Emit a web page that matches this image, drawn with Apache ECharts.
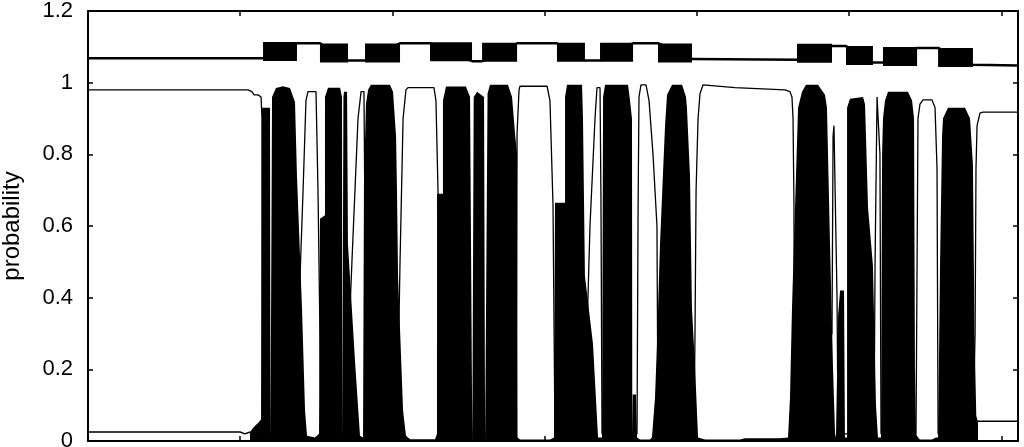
<!DOCTYPE html>
<html>
<head>
<meta charset="utf-8">
<script src="https://cdn.jsdelivr.net/npm/echarts@6/dist/echarts.min.js"></script>
<style>
html,body{margin:0;padding:0;background:#fff;}
#chart{width:1024px;height:447px;}
</style>
</head>
<body>
<div id="chart"></div>
<script>
// Probability of the "black" state along the sequence (x position, probability)
const blackProb = [
[0,0.025],[99.9,0.025],[103.1,0.02],[106.4,0.025],[109.1,0.04],[111.7,0.05],[113.7,0.06],
[114.3,0.06],[114.3,0.93],[119.6,0.93],[119.9,0],[120.6,0],[120.9,0.96],[123.5,0.985],[128.1,0.99],[132.7,0.985],
[136.0,0.946],[137.3,0.74],[140.6,0.37],[142.6,0.085],[143.9,0.015],[149.1,0.01],[151.8,0.02],
[152.4,0.62],[155.7,0.63],[155.7,0.96],[157.7,0.986],[165.6,0.986],[166.9,0.96],[167.1,0],[167.6,0],[167.8,0.96],
[168.2,0.975],[170.2,0.975],[170.8,0.55],[175.4,0.225],[178.7,0.015],[180.7,0.01],
[181.3,0.01],[181.3,0.72],[182.6,0.94],[184.0,0.98],[185.9,0.994],[198.4,0.994],[200.4,0.975],[202.4,0.85],
[203.0,0.7],[203.7,0.46],[207.0,0.085],[208.9,0.015],[211.6,0.005],[228.0,0.005],
[229.3,0.02],[229.3,0.69],[233.2,0.69],[233.2,0.95],[235.2,0.989],[248.3,0.989],[251.0,0.96],[252.3,0.96],
[252.5,0],[253.3,0],[253.4,0.96],[255.6,0.975],[260.2,0.96],[260.9,0],[261.6,0],
[262.5,0.97],[264.1,0.994],[275.9,0.994],[278.6,0.96],[280.5,0.86],[281.9,0.8],[282.2,0.01],
[283.8,0.004],[303.5,0.004],[306.2,0.01],
[306.8,0.665],[313.4,0.665],[313.4,0.96],[314.7,0.994],[324.6,0.994],[325.2,0.9],[326.5,0.46],[331.8,0.27],[335.1,0.01],
[336.4,0.005],[337.7,0.01],
[338.4,0.96],[339.7,0.994],[354.8,0.994],[356.1,0.95],[357.4,0.9],[357.6,0.02],[357.9,0.13],[360.0,0.13],[360.7,0.01],
[362.7,0.004],[369.2,0.004],
[370.5,0.01],[372.5,0.12],[373.8,0.27],[375.8,0.55],[379.1,0.88],[380.4,0.966],[383.7,0.994],[390.3,0.994],
[392.9,0.96],[393.5,0.93],[395.5,0.74],[396.8,0.37],[398.8,0.21],[400.8,0.01],
[405.4,0.004],[428.4,0.004],[431.6,0.008],[454.6,0.008],
[459.9,0.01],[461.2,0.12],[462.5,0.37],[464.5,0.65],[466.5,0.93],[469.1,0.975],[471.7,0.994],[479.6,0.994],
[484.2,0.966],[485.5,0.93],[487.5,0.55],[489.5,0.2],[490.8,0.02],
[491.4,0.01],[492.8,0.35],[494.1,0.42],[496.7,0.42],[497.3,0.01],
[498.7,0.01],[498.7,0.93],[500.6,0.955],[501.9,0.96],[509.2,0.96],[510.5,0.94],[512.5,0.65],[515.7,0.49],
[517.7,0.1],[519.0,0.01],[521.0,0.01],
[521.7,0.8],[522.3,0.9],[523.6,0.95],[525.6,0.975],[538.7,0.975],[541.4,0.95],[542.7,0.9],[543.3,0.2],[544.0,0.02],
[545.3,0.01],[546.6,0.004],[554.5,0.004],[557.1,0.01],
[558.5,0.01],[559.8,0.5],[561.1,0.85],[561.7,0.9],[565.0,0.93],[576.2,0.93],[579.5,0.9],[581.4,0.77],
[582.4,0.3],[583.6,0.07],[584.7,0.055],[611,0.055]
];

// Probability of the "white" state (drawn as a thin outline)
const whiteProb = [
[0,0.98],[105.1,0.98],[107.7,0.975],[109.1,0.966],[111.7,0.966],[113.7,0.96],[114.3,0.9],[114.5,0.02],
[136.7,0.02],[138.0,0.3],[141.3,0.7],[143.2,0.95],[144.5,0.975],[149.8,0.975],[151.1,0.7],[152.4,0.3],[153.1,0.02],
[168.2,0.02],[171.5,0.3],[173.4,0.5],[177.4,0.9],[179.4,0.975],[181.3,0.975],[182.0,0.6],[182.6,0.02],
[203.0,0.02],[205.0,0.5],[207.0,0.9],[208.9,0.98],[210.2,0.986],[227.3,0.986],[228.6,0.95],[230.0,0.69],[230.6,0.02],
[281.2,0.02],[281.9,0.86],[283.2,0.98],[283.8,0.99],[301.6,0.99],[303.5,0.95],[305.5,0.66],[306.8,0.02],
[327.8,0.3],[329.8,0.6],[333.1,0.9],[334.4,0.986],[336.4,0.986],[337.0,0.68],[337.7,0.02],
[360.7,0.02],[361.4,0.65],[362.0,0.96],[363.3,0.994],[366.6,0.994],[368.6,0.95],[371.2,0.8],[373.8,0.6],[374.5,0.02],
[398.1,0.02],[398.8,0.3],[399.5,0.7],[400.8,0.9],[402.1,0.97],[404.1,0.994],[425.1,0.986],[457.9,0.98],
[461.2,0.975],[462.5,0.96],[463.2,0.9],[463.8,0.665],[464.2,0.02],
[488.8,0.3],[489.5,0.85],[490.1,0.88],[491.4,0.88],[492.1,0.4],[492.8,0.02],
[516.4,0.02],[517.1,0.5],[518.4,0.96],[519.7,0.96],[520.3,0.8],[521.0,0.02],
[544.0,0.02],[544.7,0.5],[545.3,0.9],[546.6,0.94],[548.6,0.952],[554.5,0.952],[556.5,0.93],[557.8,0.76],[558.5,0.02],
[581.4,0.02],[582.8,0.3],[583.4,0.76],[584.1,0.88],[586.0,0.915],[588.0,0.918],[611,0.918]
];

// Decoded state indicator above the curves
const statePath = [
[0,1.068],[115.0,1.068],[137.3,1.11],[152.4,1.11],[170.8,1.062],[182.0,1.062],[205.0,1.11],[224.7,1.11],
[252.3,1.06],[258.9,1.06],[281.9,1.11],[308.1,1.11],[326.5,1.062],[336.4,1.062],[358.1,1.11],[374.5,1.11],
[396.8,1.066],[465.8,1.064],[488.8,1.102],[498.0,1.102],[515.7,1.056],[522.3,1.056],[544.7,1.097],[558.5,1.097],
[581.4,1.05],[611,1.048]
];
// [start, end, level] of the solid state blocks
const stateBoxes = [
[115.0,137.3,1.087],[152.4,170.8,1.083],[182.0,205.0,1.083],[224.7,252.3,1.086],
[258.9,281.9,1.085],[308.1,326.5,1.085],[336.4,358.1,1.085],[374.5,396.8,1.083],
[465.8,488.8,1.082],[498.0,515.7,1.076],[522.3,544.7,1.073],[558.5,581.4,1.070]
];

const FILL_START = 106.4, FILL_END = 584.7;
const blackFill = blackProb.filter(p => p[0] >= FILL_START && p[0] <= FILL_END);
const blackLeft = blackProb.filter(p => p[0] <= FILL_START);
const blackRight = blackProb.filter(p => p[0] >= FILL_END);

const font = 'Liberation Sans, Arial, sans-serif';
const axisLine = {show: true, onZero: false, lineStyle: {color: '#000', width: 2}};
const tickIn = {show: true, inside: true, length: 5, lineStyle: {color: '#000', width: 1.5}};

const series = [
  {type: 'line', data: whiteProb, symbol: 'none', z: 2,
   lineStyle: {color: '#000', width: 1.3}},
  {type: 'line', data: blackFill, symbol: 'none', z: 3,
   lineStyle: {color: '#000', width: 0, opacity: 0},
   areaStyle: {color: '#000', opacity: 1}},
  {type: 'line', data: blackLeft, symbol: 'none', z: 3, lineStyle: {color: '#000', width: 1.5}},
  {type: 'line', data: blackRight, symbol: 'none', z: 3, lineStyle: {color: '#000', width: 1.5}},
  {type: 'line', data: statePath, symbol: 'none', z: 4, lineStyle: {color: '#000', width: 2.5}}
];
stateBoxes.forEach(b => {
  series.push({type: 'line', data: [[b[0], b[2]], [b[1], b[2]]], symbol: 'none', z: 5,
    lineStyle: {color: '#000', width: 19, cap: 'butt'}});
});

const chart = echarts.init(document.getElementById('chart'), null, {renderer: 'canvas'});
chart.setOption({
  animation: false,
  backgroundColor: '#fff',
  grid: {left: 88, right: 6, top: 11, bottom: 6, containLabel: false, outerBoundsMode: 'none'},
  xAxis: [
    {type: 'value', position: 'bottom', min: 0, max: 611, interval: 100,
     axisLine: axisLine, axisTick: tickIn, axisLabel: {show: false}, splitLine: {show: false}},
    {type: 'value', position: 'top', min: 0, max: 611, interval: 100,
     axisLine: axisLine, axisTick: tickIn, axisLabel: {show: false}, splitLine: {show: false}}
  ],
  yAxis: [
    {type: 'value', position: 'left', min: 0, max: 1.2, interval: 0.2,
     name: 'probability', nameLocation: 'middle', nameRotate: 90, nameGap: 64,
     nameTextStyle: {color: '#000', fontSize: 24, fontFamily: font},
     axisLine: axisLine, axisTick: tickIn,
     axisLabel: {color: '#000', fontSize: 22, fontFamily: font, margin: 15},
     splitLine: {show: false}},
    {type: 'value', position: 'right', min: 0, max: 1.2, interval: 0.2,
     axisLine: axisLine, axisTick: tickIn, axisLabel: {show: false}, splitLine: {show: false}}
  ],
  series: series
});
</script>
</body>
</html>
